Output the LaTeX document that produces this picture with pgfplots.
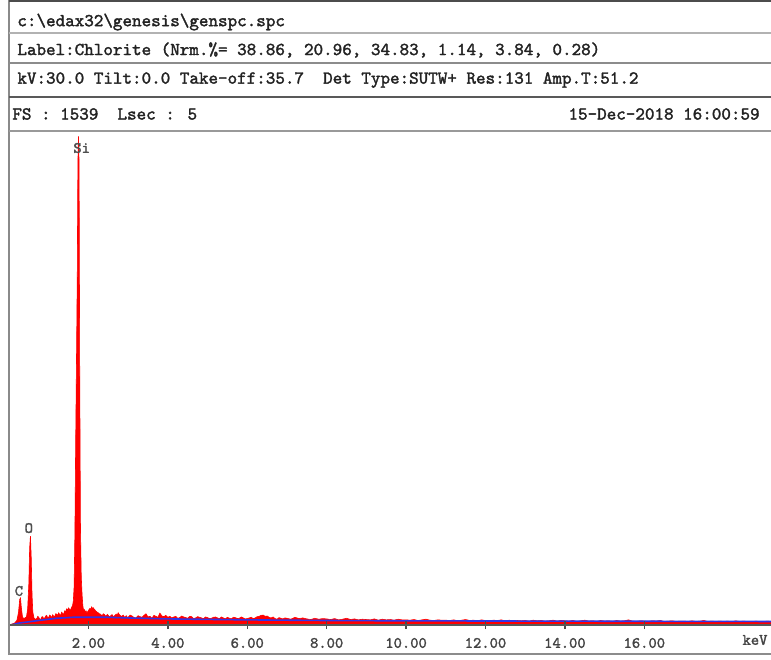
\documentclass[border=0pt]{standalone}
\usepackage{pgfplots}
\pgfplotsset{compat=1.18}
\usepackage{fontspec}
\newfontfamily\cour{lmmono10-regular.otf}[FakeBold=1.8]
\definecolor{frameA}{HTML}{8A8A8A}
\definecolor{txt}{HTML}{222222}
\definecolor{bgblue}{HTML}{3333E6}
\newcommand{\hdr}{\cour\fontsize{9.1}{10.5}\selectfont}
\newcommand{\tck}{\cour\fontsize{7.9}{9}\selectfont}
\begin{document}
\begin{tikzpicture}[x=0.5pt,y=0.5pt]
\path[use as bounding box] (0,0) rectangle (771,659);
\begin{axis}[
  at={(4.5pt,17pt)}, anchor=south west,
  scale only axis, width=381pt, height=247pt,
  xmin=0, xmax=19.19, ymin=0, ymax=1539,
  axis x line=bottom, axis y line=none,
  x axis line style={-, draw=black!65, line width=1pt},
  xtick={2,4,6,8,10,12,14,16},
  xticklabels={2.00,4.00,6.00,8.00,10.00,12.00,14.00,16.00},
  ytick=\empty,
  tick align=center, major tick length=4pt,
  tick style={draw=black!70, line width=0.7pt},
  xticklabel style={anchor=center, yshift=-7pt, font=\tck, text=txt!85},
  axis on top,
]
\addplot[fill=red, draw=red, line width=0.3pt] coordinates {
(0.00,0) (0.05,2) (0.10,4) (0.15,7) (0.20,15) (0.24,40) (0.27,80) (0.29,84) (0.31,55) (0.34,25)
(0.37,20) (0.40,22) (0.44,25) (0.47,50) (0.50,130) (0.52,240) (0.54,277) (0.56,210) (0.58,95)
(0.60,40) (0.63,22) (0.66,18) (0.70,20) (0.725,27) (0.75,24) (0.775,17) (0.80,18) (0.825,25) (0.85,26)
(0.875,19) (0.90,22) (0.925,28) (0.95,30) (0.975,22)
(1.00,24) (1.025,31) (1.05,28) (1.075,23) (1.10,32) (1.125,27) (1.15,26) (1.175,35) (1.20,34)
(1.225,29) (1.25,38) (1.275,33) (1.30,30) (1.325,40) (1.35,36) (1.375,33) (1.40,44)
(1.425,41) (1.45,50) (1.475,47) (1.50,53) (1.525,49) (1.55,46) (1.575,55) (1.60,60) (1.62,75) (1.64,120) (1.66,290) (1.68,580) (1.70,830)
(1.72,1100) (1.735,1440) (1.75,1522) (1.765,1440) (1.78,820) (1.80,300) (1.82,150) (1.84,95)
(1.86,60) (1.88,45) (1.90,48) (1.92,40) (1.94,44) (1.96,38) (1.98,41) (2.00,45) (2.02,49) (2.04,52) (2.06,47) (2.08,56) (2.10,51) (2.12,54) (2.14,50) (2.16,48)
(2.18,44) (2.20,42) (2.225,39) (2.25,38) (2.275,35) (2.30,34) (2.325,31) (2.35,30) (2.375,35) (2.40,33) (2.425,29) (2.45,28) (2.475,33) (2.50,30) (2.525,26) (2.55,27) (2.575,31) (2.60,32)
(2.625,26) (2.65,28) (2.675,31) (2.70,34) (2.725,30) (2.75,38) (2.775,33) (2.80,30) (2.825,27) (2.85,28) (2.875,31) (2.90,26) (2.925,24) (2.95,29) (2.975,25)
(3.0,24) (3.05,31) (3.1,28) (3.15,23) (3.2,22) (3.25,29) (3.3,26) (3.35,24) (3.4,30) (3.45,35) (3.5,25) (3.55,27) (3.6,21) (3.65,30) (3.7,27) (3.75,24) (3.8,37) (3.85,28) (3.9,26) (3.95,30)
(4.0,24) (4.05,27) (4.1,22) (4.15,25) (4.2,27) (4.25,21) (4.3,23) (4.35,28) (4.4,25) (4.45,23) (4.5,21) (4.55,27) (4.6,26) (4.65,20) (4.7,22) (4.75,26) (4.8,24) (4.85,22) (4.9,20) (4.95,25)
(5.0,23) (5.05,20) (5.1,21) (5.15,24) (5.2,25) (5.25,22) (5.3,20) (5.35,25) (5.4,22) (5.45,19) (5.5,24) (5.55,21) (5.6,19) (5.65,24) (5.7,23) (5.75,20) (5.8,21) (5.85,25) (5.9,22) (5.95,19)
(6.0,20) (6.05,22) (6.1,24) (6.15,20) (6.2,22) (6.25,26) (6.3,27) (6.35,30) (6.4,31) (6.45,27) (6.5,28) (6.55,24) (6.6,22) (6.65,25) (6.7,20) (6.75,18) (6.8,23) (6.85,21) (6.9,19) (6.95,22)
(7.0,21) (7.1,18) (7.2,24) (7.3,20) (7.4,22) (7.5,19) (7.6,17) (7.7,21) (7.8,18) (7.9,20)
(8.0,19) (8.1,17) (8.2,20) (8.3,16) (8.4,18) (8.5,21) (8.6,17) (8.7,19) (8.8,16) (8.9,18)
(9.0,17) (9.1,16) (9.2,19) (9.3,15) (9.4,18) (9.5,16) (9.6,17) (9.7,15) (9.8,18) (9.9,16)
(10.0,16) (10.1,15) (10.2,17) (10.3,14) (10.4,16) (10.5,18) (10.6,15) (10.7,14) (10.8,16) (10.9,15)
(11.0,15) (11.1,14) (11.2,16) (11.3,13) (11.4,15) (11.5,17) (11.6,14) (11.7,15) (11.8,13) (11.9,16)
(12.0,14) (12.1,13) (12.2,15) (12.3,14) (12.4,16) (12.5,13) (12.6,15) (12.7,12) (12.8,14) (12.9,13)
(13.0,14) (13.1,12) (13.2,15) (13.3,13) (13.4,14) (13.5,12) (13.6,13) (13.7,15) (13.8,12) (13.9,14)
(14.0,13) (14.1,12) (14.2,14) (14.3,11) (14.4,13) (14.5,15) (14.6,12) (14.7,13) (14.8,11) (14.9,14)
(15.0,12) (15.1,13) (15.2,11) (15.3,14) (15.4,12) (15.5,13) (15.6,16) (15.7,12) (15.8,11) (15.9,13)
(16.0,12) (16.1,11) (16.2,13) (16.3,12) (16.4,14) (16.5,11) (16.6,12) (16.7,13) (16.8,11) (16.9,12)
(17.0,12) (17.1,11) (17.2,13) (17.3,11) (17.4,12) (17.5,14) (17.6,11) (17.7,12) (17.8,11) (17.9,12)
(18.0,11) (18.1,12) (18.2,10) (18.3,13) (18.4,11) (18.5,12) (18.6,11) (18.7,10) (18.8,12) (18.9,11)
(19.0,11) (19.1,12) (19.19,11)
} \closedcycle;
\addplot[bgblue, line width=0.8pt] coordinates {
(0.05,0) (0.25,6) (0.5,10) (0.8,15) (1.2,21) (1.6,24) (2.5,24) (3.0,22) (4.0,19) (6.0,16)
(8.0,14) (10.0,13) (14.0,12) (19.19,11)
};
\node[font=\tck, text=txt!80] at (axis cs:1.83,1486) {Si};
\node[font=\tck, text=txt!80] at (axis cs:0.50,302) {O};
\node[font=\tck, text=txt!80] at (axis cs:0.25,106) {C};
\end{axis}
\draw[line width=1pt, frameA] (9,4) -- (9,659);
\draw[line width=1pt, black!70] (9,658) -- (771,658);
\draw[line width=1pt, black!30] (9,626) -- (771,626);
\draw[line width=1pt, black!45] (9,596) -- (771,596);
\draw[line width=1.3pt, black!65] (9,562) -- (771,562);
\draw[line width=1pt, black!40] (9,528) -- (771,528);
\draw[line width=1pt, black!45] (9,5) -- (771,5);
\node[anchor=west, inner sep=0, font=\hdr, text=txt] at (17,637) {c:\textbackslash edax32\textbackslash genesis\textbackslash genspc.spc};
\node[anchor=west, inner sep=0, font=\hdr, text=txt] at (17,609) {Label:Chlorite (Nrm.\%= 38.86, 20.96, 34.83, 1.14, 3.84, 0.28)};
\node[anchor=west, inner sep=0, font=\hdr, text=txt] at (17,579) {kV:30.0 Tilt:0.0 Take-off:35.7\ \ Det Type:SUTW+ Res:131 Amp.T:51.2};
\node[anchor=west, inner sep=0, font=\hdr, text=txt] at (12,545) {FS : 1539\ \ Lsec : 5};
\node[anchor=east, inner sep=0, font=\hdr, text=txt] at (760,545) {15-Dec-2018 16:00:59};
\node[font=\tck, text=txt!85] at (755,19) {keV};
\end{tikzpicture}
\end{document}
